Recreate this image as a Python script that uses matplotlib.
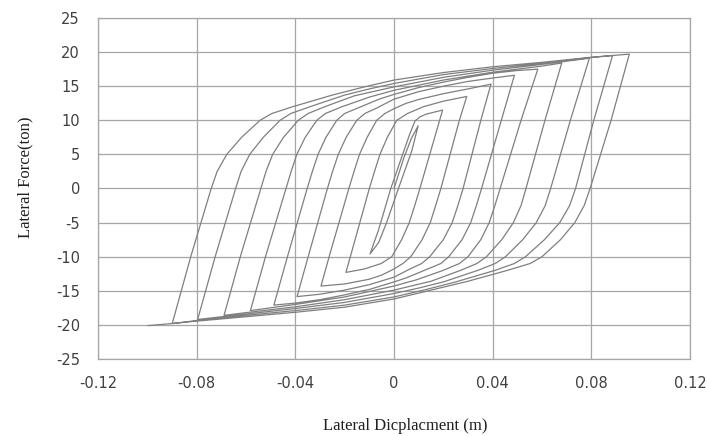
import matplotlib
matplotlib.use("Agg")
import matplotlib.pyplot as plt

plt.rcParams["axes.unicode_minus"] = False

# loading branches (start at a trough, end at the next peak)
# up_d[0] is the first push from the origin
up_d = [
    [0, 0.004, 0.007, 0.0098],
    [-0.0097, -0.0062, -0.0013, 0.0035, 0.0062, 0.0085, 0.0105, 0.013, 0.0197],
    [-0.0195, -0.0177, -0.0100, -0.0079, -0.0057, -0.0027, 0.0011, 0.0055, 0.012, 0.02, 0.0295],
    [-0.0296, -0.0263, -0.0183, -0.0162, -0.0140, -0.0109, -0.007, -0.0037, 0, 0.005, 0.01, 0.02, 0.03, 0.0393],
    [-0.0393, -0.0348, -0.0270, -0.0249, -0.0226, -0.0194, -0.0151, -0.0118, -0.007, 0, 0.01, 0.02, 0.03, 0.04, 0.0488],
    [-0.0487, -0.0432, -0.0352, -0.0331, -0.0308, -0.0276, -0.0232, -0.0200, -0.014, -0.006, 0, 0.01, 0.02, 0.03,
     0.04, 0.05, 0.0583],
    [-0.0582, -0.0521, -0.0438, -0.0417, -0.0394, -0.0360, -0.0313, -0.0278, -0.021, -0.01, 0, 0.02, 0.04, 0.06,
     0.068],
    [-0.0689, -0.0623, -0.0540, -0.0519, -0.0492, -0.0448, -0.0388, -0.0348, -0.028, -0.016, 0, 0.02, 0.04, 0.06,
     0.0792],
    [-0.0796, -0.0725, -0.0642, -0.0620, -0.0585, -0.0530, -0.0462, -0.0418, -0.034, -0.02, -0.01, 0, 0.02, 0.04,
     0.06, 0.08, 0.0886],
    [-0.0899, -0.0824, -0.0741, -0.0717, -0.0678, -0.0618, -0.0543, -0.0495, -0.041, -0.025, -0.012, 0, 0.02, 0.04,
     0.06, 0.08, 0.0954],
]
up_f = [
    [0, 4.5, 7.3, 9.2],
    [-9.6, -6.0, 0, 5, 7.8, 9.9, 10.5, 10.9, 11.5],
    [-12.3, -10, 0, 2.5, 5, 7.5, 10, 11.0, 12.0, 12.8, 13.5],
    [-14.3, -10, 0, 2.5, 5, 7.5, 10, 11, 11.7, 12.5, 13.05, 13.9, 14.6, 15.3],
    [-15.85, -10, 0, 2.5, 5, 7.5, 10, 11, 11.8, 13.1, 14.2, 15.0, 15.7, 16.2, 16.6],
    [-17.1, -10, 0, 2.5, 5, 7.5, 10, 11, 11.9, 13.1, 13.8, 14.8, 15.6, 16.3, 16.9, 17.3, 17.5],
    [-17.9, -10, 0, 2.5, 5, 7.5, 10, 11, 12.0, 13.4, 14.4, 15.9, 17.05, 17.95, 18.4],
    [-18.6, -10, 0, 2.5, 5, 7.5, 10, 11, 12.0, 13.6, 14.9, 16.3, 17.35, 18.2, 19.1],
    [-19.2, -10, 0, 2.5, 5, 7.5, 10, 11, 12.0, 13.7, 14.6, 15.4, 16.7, 17.6, 18.35, 19.2, 19.5],
    [-19.8, -10, 0, 2.5, 5, 7.5, 10, 11, 12.0, 13.7, 14.9, 15.9, 17.0, 17.85, 18.5, 19.25, 19.7],
]

# unloading branches (start at a peak, end at the next trough)
down_d = [
    [0.0098, 0.0072, 0.0018, -0.003, -0.0062, -0.0097],
    [0.0197, 0.0185, 0.0105, 0.0084, 0.0062, 0.0031, -0.0009, -0.0052, -0.012, -0.0195],
    [0.0295, 0.0265, 0.0190, 0.0169, 0.0147, 0.0114, 0.0068, 0.0036, 0, -0.005, -0.01, -0.02, -0.0296],
    [0.0393, 0.0352, 0.0280, 0.0259, 0.0236, 0.0200, 0.0145, 0.0112, 0.0065, 0, -0.01, -0.02, -0.03, -0.0393],
    [0.0488, 0.0435, 0.0355, 0.0334, 0.0311, 0.0276, 0.0222, 0.0190, 0.013, 0.005, 0, -0.01, -0.02, -0.03, -0.04,
     -0.0487],
    [0.0583, 0.0515, 0.0430, 0.0409, 0.0386, 0.0352, 0.0300, 0.0265, 0.020, 0.009, 0, -0.02, -0.04, -0.0582],
    [0.068, 0.0612, 0.0535, 0.0515, 0.0484, 0.0437, 0.0375, 0.0336, 0.027, 0.015, 0, -0.02, -0.04, -0.06, -0.0689],
    [0.0792, 0.0715, 0.0635, 0.0613, 0.0577, 0.0522, 0.0452, 0.0410, 0.034, 0.02, 0.01, 0, -0.02, -0.04, -0.06,
     -0.0796],
    [0.0886, 0.0810, 0.0736, 0.0712, 0.0672, 0.0610, 0.0533, 0.0488, 0.041, 0.025, 0.012, 0, -0.02, -0.04, -0.06,
     -0.08, -0.0899],
    [0.0954, 0.0880, 0.0795, 0.0771, 0.0733, 0.0675, 0.0600, 0.0552, 0.046, 0.030, 0.015, 0, -0.02, -0.04, -0.06,
     -0.08, -0.0899, -0.0997],
]
down_f = [
    [9.2, 5.5, 0, -5, -7.9, -9.6],
    [11.5, 10, 0, -2.5, -5, -7.5, -10, -11.0, -11.8, -12.3],
    [13.5, 10, 0, -2.5, -5, -7.5, -10, -11, -11.8, -12.7, -13.3, -14.0, -14.3],
    [15.3, 10, 0, -2.5, -5, -7.5, -10, -11, -11.8, -13.0, -14.1, -14.9, -15.5, -15.85],
    [16.6, 10, 0, -2.5, -5, -7.5, -10, -11, -11.9, -13.1, -13.7, -14.8, -15.6, -16.3, -16.8, -17.1],
    [17.5, 10, 0, -2.5, -5, -7.5, -10, -11, -12.0, -13.4, -14.3, -15.9, -17.0, -17.9],
    [18.4, 10, 0, -2.5, -5, -7.5, -10, -11, -12.0, -13.6, -14.9, -16.3, -17.35, -18.2, -18.6],
    [19.1, 10, 0, -2.5, -5, -7.5, -10, -11, -12.0, -13.7, -14.6, -15.4, -16.7, -17.6, -18.4, -19.2],
    [19.5, 10, 0, -2.5, -5, -7.5, -10, -11, -12.0, -13.7, -14.9, -15.9, -17.1, -17.9, -18.6, -19.35, -19.8],
    [19.7, 10, 0, -2.5, -5, -7.5, -10, -11, -12.0, -13.6, -14.9, -16.2, -17.4, -18.15, -18.8, -19.45, -19.8,
     -20.1],
]

x_ticks = [-0.12, -0.08, -0.04, 0, 0.04, 0.08, 0.12]
x_labels = ["-0.12", "-0.08", "-0.04", "0", "0.04", "0.08", "0.12"]
y_ticks = [-25, -20, -15, -10, -5, 0, 5, 10, 15, 20, 25]

# one continuous path: push, pull, push, pull ...
disp, force = [], []
disp += up_d[0]
force += up_f[0]
for k in range(len(down_d)):
    disp += down_d[k]
    force += down_f[k]
    if k + 1 < len(up_d):
        disp += up_d[k + 1]
        force += up_f[k + 1]

fig = plt.figure(figsize=(7.07, 4.36), dpi=100)
ax = fig.add_axes([98 / 707, 1 - 359 / 436, 592 / 707, 341 / 436])

ax.plot(disp, force, color="#7f7f7f", lw=0.9, solid_joinstyle="round", zorder=3)

ax.set_xlim(-0.12, 0.12)
ax.set_ylim(-25, 25)
ax.set_xticks(x_ticks)
ax.set_xticklabels(x_labels)
ax.set_yticks(y_ticks)
ax.grid(True, color="#a6a6a6", lw=0.9)
for s in ax.spines.values():
    s.set_color("#a6a6a6")
    s.set_linewidth(0.9)
ax.tick_params(axis="both", length=0, labelsize=10.5, colors="#404040")
ax.tick_params(axis="x", pad=12)
ax.tick_params(axis="y", pad=13)
for lab in ax.get_xticklabels() + ax.get_yticklabels():
    lab.set_family("DejaVu Sans")

fig.text(405 / 707, 1 - 426 / 436, "Lateral Dicplacment (m)", family="Liberation Serif",
         fontsize=12, ha="center", va="center", color="#202020")
fig.text(25 / 707, 1 - 177 / 436, "Lateral Force(ton)", family="Liberation Serif",
         fontsize=12, ha="center", va="center", rotation=90, color="#202020")

fig.savefig("out.png", dpi=100)
